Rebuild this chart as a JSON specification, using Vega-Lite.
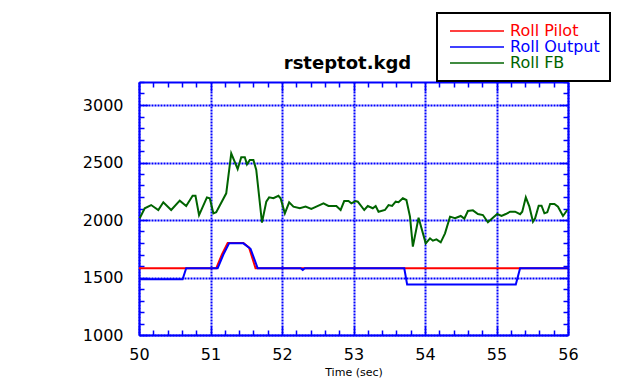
{
  "$schema": "https://vega.github.io/schema/vega-lite/v6.json",
  "width": 429,
  "height": 253,
  "autosize": {"type": "none"},
  "padding": {"left": 139, "top": 82, "right": 73, "bottom": 49},
  "background": "white",
  "config": {
    "font": "DejaVu Sans",
    "view": {"stroke": null},
    "axis": {
      "domainColor": "#0000ff",
      "domainWidth": 2,
      "tickColor": "#0000ff",
      "tickWidth": 1.5,
      "labelColor": "black",
      "labelFont": "DejaVu Sans",
      "labelFontSize": 16,
      "labelOverlap": false,
      "labelFlush": false,
      "gridColor": "#0000ff",
      "gridWidth": 2,
      "gridDash": [2, 1]
    },
    "legend": {"strokeWidth": 2}
  },
  "data": {
    "values": [
      {"s": "Roll Pilot", "t": 50.0, "v": 1580},
      {"s": "Roll Pilot", "t": 51.08, "v": 1580},
      {"s": "Roll Pilot", "t": 51.16, "v": 1700},
      {"s": "Roll Pilot", "t": 51.24, "v": 1800},
      {"s": "Roll Pilot", "t": 51.46, "v": 1800},
      {"s": "Roll Pilot", "t": 51.54, "v": 1760},
      {"s": "Roll Pilot", "t": 51.63, "v": 1580},
      {"s": "Roll Pilot", "t": 56.0, "v": 1580},

      {"s": "Roll Output", "t": 50.0, "v": 1485},
      {"s": "Roll Output", "t": 50.61, "v": 1485},
      {"s": "Roll Output", "t": 50.66, "v": 1580},
      {"s": "Roll Output", "t": 51.1, "v": 1580},
      {"s": "Roll Output", "t": 51.18, "v": 1700},
      {"s": "Roll Output", "t": 51.26, "v": 1797},
      {"s": "Roll Output", "t": 51.46, "v": 1797},
      {"s": "Roll Output", "t": 51.56, "v": 1750},
      {"s": "Roll Output", "t": 51.66, "v": 1580},
      {"s": "Roll Output", "t": 52.26, "v": 1580},
      {"s": "Roll Output", "t": 52.29, "v": 1566},
      {"s": "Roll Output", "t": 52.32, "v": 1580},
      {"s": "Roll Output", "t": 53.71, "v": 1580},
      {"s": "Roll Output", "t": 53.75, "v": 1440},
      {"s": "Roll Output", "t": 55.27, "v": 1440},
      {"s": "Roll Output", "t": 55.33, "v": 1580},
      {"s": "Roll Output", "t": 56.0, "v": 1580},

      {"s": "Roll FB", "t": 50.01, "v": 2015},
      {"s": "Roll FB", "t": 50.08, "v": 2102},
      {"s": "Roll FB", "t": 50.17, "v": 2130},
      {"s": "Roll FB", "t": 50.27, "v": 2087},
      {"s": "Roll FB", "t": 50.34, "v": 2154},
      {"s": "Roll FB", "t": 50.45, "v": 2087},
      {"s": "Roll FB", "t": 50.57, "v": 2168},
      {"s": "Roll FB", "t": 50.66, "v": 2122},
      {"s": "Roll FB", "t": 50.75, "v": 2211},
      {"s": "Roll FB", "t": 50.79, "v": 2211},
      {"s": "Roll FB", "t": 50.84, "v": 2043},
      {"s": "Roll FB", "t": 50.95, "v": 2196},
      {"s": "Roll FB", "t": 50.99, "v": 2189},
      {"s": "Roll FB", "t": 51.04, "v": 2058},
      {"s": "Roll FB", "t": 51.08, "v": 2067},
      {"s": "Roll FB", "t": 51.22, "v": 2232},
      {"s": "Roll FB", "t": 51.29, "v": 2580},
      {"s": "Roll FB", "t": 51.38, "v": 2444},
      {"s": "Roll FB", "t": 51.43, "v": 2545},
      {"s": "Roll FB", "t": 51.48, "v": 2545},
      {"s": "Roll FB", "t": 51.51, "v": 2484},
      {"s": "Roll FB", "t": 51.55, "v": 2522},
      {"s": "Roll FB", "t": 51.6, "v": 2522},
      {"s": "Roll FB", "t": 51.64, "v": 2435},
      {"s": "Roll FB", "t": 51.72, "v": 1977},
      {"s": "Roll FB", "t": 51.78, "v": 2159},
      {"s": "Roll FB", "t": 51.82, "v": 2197},
      {"s": "Roll FB", "t": 51.88, "v": 2189},
      {"s": "Roll FB", "t": 51.95, "v": 2211},
      {"s": "Roll FB", "t": 51.98, "v": 2189},
      {"s": "Roll FB", "t": 52.04, "v": 2058},
      {"s": "Roll FB", "t": 52.1, "v": 2154},
      {"s": "Roll FB", "t": 52.16, "v": 2116},
      {"s": "Roll FB", "t": 52.25, "v": 2102},
      {"s": "Roll FB", "t": 52.33, "v": 2116},
      {"s": "Roll FB", "t": 52.41, "v": 2096},
      {"s": "Roll FB", "t": 52.48, "v": 2116},
      {"s": "Roll FB", "t": 52.58, "v": 2145},
      {"s": "Roll FB", "t": 52.65, "v": 2122},
      {"s": "Roll FB", "t": 52.76, "v": 2122},
      {"s": "Roll FB", "t": 52.82, "v": 2087},
      {"s": "Roll FB", "t": 52.87, "v": 2165},
      {"s": "Roll FB", "t": 52.93, "v": 2165},
      {"s": "Roll FB", "t": 52.97, "v": 2145},
      {"s": "Roll FB", "t": 53.03, "v": 2165},
      {"s": "Roll FB", "t": 53.06, "v": 2159},
      {"s": "Roll FB", "t": 53.15, "v": 2087},
      {"s": "Roll FB", "t": 53.2, "v": 2122},
      {"s": "Roll FB", "t": 53.27, "v": 2102},
      {"s": "Roll FB", "t": 53.31, "v": 2122},
      {"s": "Roll FB", "t": 53.35, "v": 2072},
      {"s": "Roll FB", "t": 53.44, "v": 2087},
      {"s": "Roll FB", "t": 53.49, "v": 2130},
      {"s": "Roll FB", "t": 53.54, "v": 2122},
      {"s": "Roll FB", "t": 53.59, "v": 2159},
      {"s": "Roll FB", "t": 53.63, "v": 2154},
      {"s": "Roll FB", "t": 53.69, "v": 2189},
      {"s": "Roll FB", "t": 53.74, "v": 2174},
      {"s": "Roll FB", "t": 53.79, "v": 2029},
      {"s": "Roll FB", "t": 53.83, "v": 1768},
      {"s": "Roll FB", "t": 53.91, "v": 2020},
      {"s": "Roll FB", "t": 54.01, "v": 1797},
      {"s": "Roll FB", "t": 54.07, "v": 1841},
      {"s": "Roll FB", "t": 54.11, "v": 1820},
      {"s": "Roll FB", "t": 54.16, "v": 1832},
      {"s": "Roll FB", "t": 54.22, "v": 1806},
      {"s": "Roll FB", "t": 54.28, "v": 1884},
      {"s": "Roll FB", "t": 54.35, "v": 2029},
      {"s": "Roll FB", "t": 54.42, "v": 2015},
      {"s": "Roll FB", "t": 54.5, "v": 2035},
      {"s": "Roll FB", "t": 54.55, "v": 2012},
      {"s": "Roll FB", "t": 54.6, "v": 2078},
      {"s": "Roll FB", "t": 54.67, "v": 2084},
      {"s": "Roll FB", "t": 54.74, "v": 2052},
      {"s": "Roll FB", "t": 54.81, "v": 2043},
      {"s": "Roll FB", "t": 54.88, "v": 1980},
      {"s": "Roll FB", "t": 54.95, "v": 2020},
      {"s": "Roll FB", "t": 55.01, "v": 2052},
      {"s": "Roll FB", "t": 55.07, "v": 2035},
      {"s": "Roll FB", "t": 55.13, "v": 2052},
      {"s": "Roll FB", "t": 55.19, "v": 2072},
      {"s": "Roll FB", "t": 55.26, "v": 2072},
      {"s": "Roll FB", "t": 55.33, "v": 2050},
      {"s": "Roll FB", "t": 55.36, "v": 2072},
      {"s": "Roll FB", "t": 55.41, "v": 2197},
      {"s": "Roll FB", "t": 55.46, "v": 2116},
      {"s": "Roll FB", "t": 55.51, "v": 1985},
      {"s": "Roll FB", "t": 55.54, "v": 2015},
      {"s": "Roll FB", "t": 55.59, "v": 2124},
      {"s": "Roll FB", "t": 55.63, "v": 2124},
      {"s": "Roll FB", "t": 55.67, "v": 2058},
      {"s": "Roll FB", "t": 55.71, "v": 2067},
      {"s": "Roll FB", "t": 55.75, "v": 2139},
      {"s": "Roll FB", "t": 55.81, "v": 2139},
      {"s": "Roll FB", "t": 55.86, "v": 2116},
      {"s": "Roll FB", "t": 55.93, "v": 2035},
      {"s": "Roll FB", "t": 55.99, "v": 2087}
    ]
  },
  "layer": [
    {
      "mark": {"type": "line", "strokeWidth": 2, "interpolate": "linear"},
      "encoding": {
        "x": {
          "field": "t",
          "type": "quantitative",
          "scale": {"domain": [50, 56], "nice": false, "zero": false},
          "axis": {
            "orient": "bottom",
            "title": "Time (sec)",
            "titleFont": "DejaVu Sans",
            "titleFontSize": 11,
            "titleFontWeight": "normal",
            "titleColor": "black",
            "titlePadding": 0,
            "values": [50, 50.2, 50.4, 50.6, 50.8, 51, 51.2, 51.4, 51.6, 51.8, 52, 52.2, 52.4, 52.6, 52.8, 53, 53.2, 53.4, 53.6, 53.8, 54, 54.2, 54.4, 54.6, 54.8, 55, 55.2, 55.4, 55.6, 55.8, 56],
            "labelExpr": "datum.value % 1 === 0 ? format(datum.value, 'd') : ''",
            "tickSize": {"condition": {"test": "datum.value % 1 === 0", "value": -9}, "value": -5},
            "labelPadding": 20,
            "grid": true,
            "gridOpacity": {"condition": {"test": "datum.value % 1 === 0", "value": 1}, "value": 0}
          }
        },
        "y": {
          "field": "v",
          "type": "quantitative",
          "scale": {"domain": [1000, 3200], "nice": false, "zero": false},
          "axis": {
            "orient": "left",
            "title": null,
            "values": [1000, 1100, 1200, 1300, 1400, 1500, 1600, 1700, 1800, 1900, 2000, 2100, 2200, 2300, 2400, 2500, 2600, 2700, 2800, 2900, 3000, 3100, 3200],
            "labelExpr": "datum.value % 500 === 0 ? format(datum.value, 'd') : ''",
            "tickSize": {"condition": {"test": "datum.value % 500 === 0", "value": -9}, "value": -5},
            "labelPadding": 25,
            "grid": true,
            "gridOpacity": {"condition": {"test": "datum.value % 500 === 0", "value": 1}, "value": 0}
          }
        },
        "color": {
          "field": "s",
          "type": "nominal",
          "scale": {"domain": ["Roll Pilot", "Roll Output", "Roll FB"], "range": ["#ff0000", "#0000ff", "#006400"]},
          "legend": {
            "title": null,
            "orient": "none",
            "legendX": 298,
            "legendY": -69,
            "direction": "vertical",
            "fillColor": "white",
            "strokeColor": "black",
            "padding": 10,
            "symbolType": "M-1,0H9.8",
            "symbolSize": 100,
            "symbolStrokeWidth": 1.5,
            "symbolOffset": 0,
            "labelOffset": 47,
            "labelFont": "DejaVu Sans",
            "labelFontSize": 16,
            "rowPadding": 0,
            "labelLimit": 200,
            "encode": {
              "labels": {"update": {"fill": {"scale": "color", "field": "value"}}}
            }
          }
        },
        "order": {"field": "t", "type": "quantitative"}
      }
    },
    {
      "mark": {"type": "point", "opacity": 0, "size": 0},
      "encoding": {
        "x": {
          "field": "t",
          "type": "quantitative",
          "axis": {
            "orient": "top",
            "title": "rsteptot.kgd",
            "titleFont": "DejaVu Sans",
            "titleFontSize": 18,
            "titleFontWeight": "bold",
            "titleColor": "black",
            "titleBaseline": "alphabetic",
            "titlePadding": 13,
            "titleX": 208,
            "labels": false,
            "grid": false,
            "values": [50, 50.2, 50.4, 50.6, 50.8, 51, 51.2, 51.4, 51.6, 51.8, 52, 52.2, 52.4, 52.6, 52.8, 53, 53.2, 53.4, 53.6, 53.8, 54, 54.2, 54.4, 54.6, 54.8, 55, 55.2, 55.4, 55.6, 55.8, 56],
            "tickSize": {"condition": {"test": "datum.value % 1 === 0", "value": -9}, "value": -5}
          }
        },
        "y": {
          "field": "v",
          "type": "quantitative",
          "axis": {
            "orient": "right",
            "title": null,
            "labels": false,
            "grid": false,
            "values": [1000, 1100, 1200, 1300, 1400, 1500, 1600, 1700, 1800, 1900, 2000, 2100, 2200, 2300, 2400, 2500, 2600, 2700, 2800, 2900, 3000, 3100, 3200],
            "tickSize": {"condition": {"test": "datum.value % 500 === 0", "value": -9}, "value": -5}
          }
        }
      }
    }
  ],
  "resolve": {"axis": {"x": "independent", "y": "independent"}}
}
